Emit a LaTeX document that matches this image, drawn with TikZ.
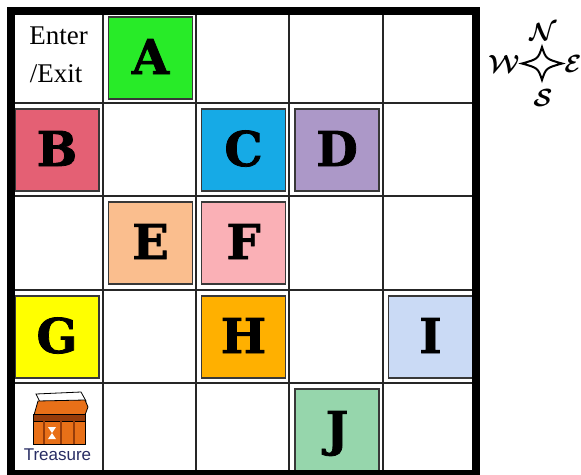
\documentclass[tikz,border=0pt]{standalone}
\usepackage{fontspec}
\usetikzlibrary{calc}
\newfontfamily\slabfont{DejaVu Serif}[BoldFeatures={FakeBold=1.6}]
\newfontfamily\romanfont{Liberation Serif}
\newfontfamily\labelfont{Liberation Sans}

\definecolor{roomA}{RGB}{40,235,40}
\definecolor{roomB}{RGB}{228,96,116}
\definecolor{roomC}{RGB}{22,170,230}
\definecolor{roomD}{RGB}{172,152,200}
\definecolor{roomE}{RGB}{250,190,142}
\definecolor{roomF}{RGB}{250,176,182}
\definecolor{roomG}{RGB}{255,255,0}
\definecolor{roomH}{RGB}{255,176,0}
\definecolor{roomI}{RGB}{202,218,245}
\definecolor{roomJ}{RGB}{150,214,172}
\definecolor{chestorange}{RGB}{232,112,24}
\definecolor{chestdark}{RGB}{150,60,10}
\definecolor{chesttext}{RGB}{40,45,100}

\begin{document}
\begin{tikzpicture}[x=1pt,y=-1pt,
  gridline/.style={line width=2pt, draw=black!85},
  border/.style={line width=8pt, draw=black},
  roombox/.style={draw=black!78, line width=1.4pt, minimum width=84pt,
    minimum height=82pt, inner sep=0pt},
  roomletter/.style={font=\slabfont\bfseries\fontsize{48}{48}\selectfont,
    anchor=base, inner sep=0pt},
  signtext/.style={font=\romanfont\fontsize{27}{27}\selectfont, anchor=base,
    inner sep=0pt},
  compassletter/.style={font=\boldmath\fontsize{25}{25}\selectfont,
    anchor=base, inner sep=0pt}]
\useasboundingbox (0,0) rectangle (581,474);
\fill[white] (0,0) rectangle (581,474);

% inner grid lines
\foreach \gx in {102.5,195.5,289,382.5}
  \draw[gridline] (\gx,11) -- (\gx,474);
\foreach \gy in {103,196,290,383}
  \draw[gridline] (11,\gy) -- (476,\gy);

% rooms
\foreach \name/\cx/\cy in {A/150.5/58, B/57/150, C/243.5/150, D/337/150,
    E/150.5/243, F/243.5/243, G/57/337, H/243.5/337, I/430.5/337, J/337/430}{
  \node[roombox, fill=room\name] (box\name) at (\cx,\cy) {};
  \node[roomletter] (let\name) at ($(\cx,\cy)+(0,16)$) {\name};
}

% outer wall
\draw[border] (11,11) rectangle (476,474);

% entrance
\node[signtext] (enter) at (58.5,44) {Enter};
\node[signtext] (exit) at (56,82) {/Exit};

% treasure chest
\draw[black, line width=0.8pt, fill=white]
  (36,394) -- (81,392) -- (86,401) -- (40,402) -- cycle;
\draw[black, line width=0.8pt, fill=chestorange]
  (38,401) -- (85,400) -- (88,407) -- (85,415) -- (34,415) -- cycle;
\draw[black, line width=0.8pt, fill=chestorange] (33,414) rectangle (85,444);
\draw[black, line width=0.8pt, fill=chestdark] (33,414) rectangle (85,421);
\foreach \sx in {44,61,74}
  \draw[chestdark, line width=2pt] (\sx,421) -- (\sx,444);
\fill[white] (48,427) -- (56,427) -- (52,433) -- (56,439) -- (48,439)
  -- (52,433) -- cycle;
\node[font=\labelfont\fontsize{17}{17}\selectfont, text=chesttext,
  anchor=base, inner sep=0pt] (treasure) at (57.5,460) {Treasure};

% compass rose
\draw[black, line width=2pt, fill=white, line join=miter]
  (542,47) .. controls (546,59) .. (562,63.5)
  .. controls (546,68) .. (542,80)
  .. controls (538,68) .. (522,63.5)
  .. controls (538,59) .. (542,47) -- cycle;
\node[compassletter] (north) at (543,40) {$\mathcal{N}$};
\node[compassletter] (south) at (543,106) {$\mathcal{S}$};
\node[compassletter] (west) at (504,72) {$\mathcal{W}$};
\node[compassletter] (east) at (573,72) {$\mathcal{E}$};
\end{tikzpicture}
\end{document}
